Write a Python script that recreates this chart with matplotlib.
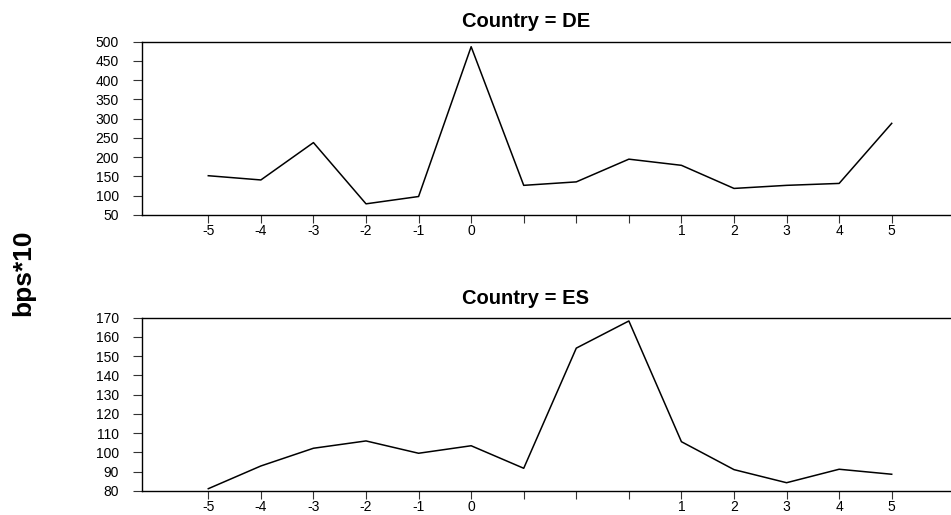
import matplotlib
matplotlib.use("Agg")
import matplotlib.pyplot as plt

plt.rcParams['font.family'] = ['Liberation Sans', 'DejaVu Sans']

tick_labels = ['-5', '-4', '-3', '-2', '-1', '0', '', '', '', '1', '2', '3', '4', '5']
de_values = [152, 141, 238, 79, 98, 487, 127, 136, 195, 179, 119, 127, 132, 288]
es_values = [81.2, 93, 102.2, 106, 99.6, 103.5, 91.8, 154.2, 168.3, 105.6, 91.1, 84.3, 91.3, 88.7]
panels = [
    ("Country = DE", de_values, (50, 500), [50, 100, 150, 200, 250, 300, 350, 400, 450, 500]),
    ("Country = ES", es_values, (80, 170), [80, 90, 100, 110, 120, 130, 140, 150, 160, 170]),
]

W, H = 951, 515
fig = plt.figure(figsize=(W / 100, H / 100), dpi=100)

left_px, right_px = 141.7, 951
boxes = [(41.7, 215.0), (317.7, 491.0)]
title_y = [21.7, 298.0]

x_pos = list(range(len(tick_labels)))
x0 = 208.3
dx = 52.57
xlim = ((left_px - x0) / dx, (right_px - x0) / dx)

for (title, vals, ylim, yticks), (top, bot), ty in zip(panels, boxes, title_y):
    ax = fig.add_axes([left_px / W, 1 - bot / H, (right_px - left_px) / W, (bot - top) / H])
    ax.plot(x_pos, vals, color='black', lw=1.1)
    ax.set_xlim(*xlim)
    ax.set_ylim(*ylim)
    ax.set_xticks(x_pos)
    ax.set_xticklabels(tick_labels)
    ax.set_yticks(yticks)
    ax.spines['right'].set_visible(False)
    for s in ('left', 'top', 'bottom'):
        ax.spines[s].set_linewidth(1.0)
    ax.tick_params(axis='x', length=5.5, width=0.8, pad=1, labelsize=10, color='#333333')
    ax.tick_params(axis='y', length=6.3, width=0.8, pad=10, labelsize=10, color='#333333')
    fig.text(526 / W, 1 - ty / H, title, ha='center', va='center', fontsize=14.5, fontweight='bold')

fig.text(23 / W, 1 - 273 / H, 'bps*10', rotation=90, ha='center', va='center',
         fontsize=19, fontweight='bold')

fig.savefig('out.png', dpi=100)
